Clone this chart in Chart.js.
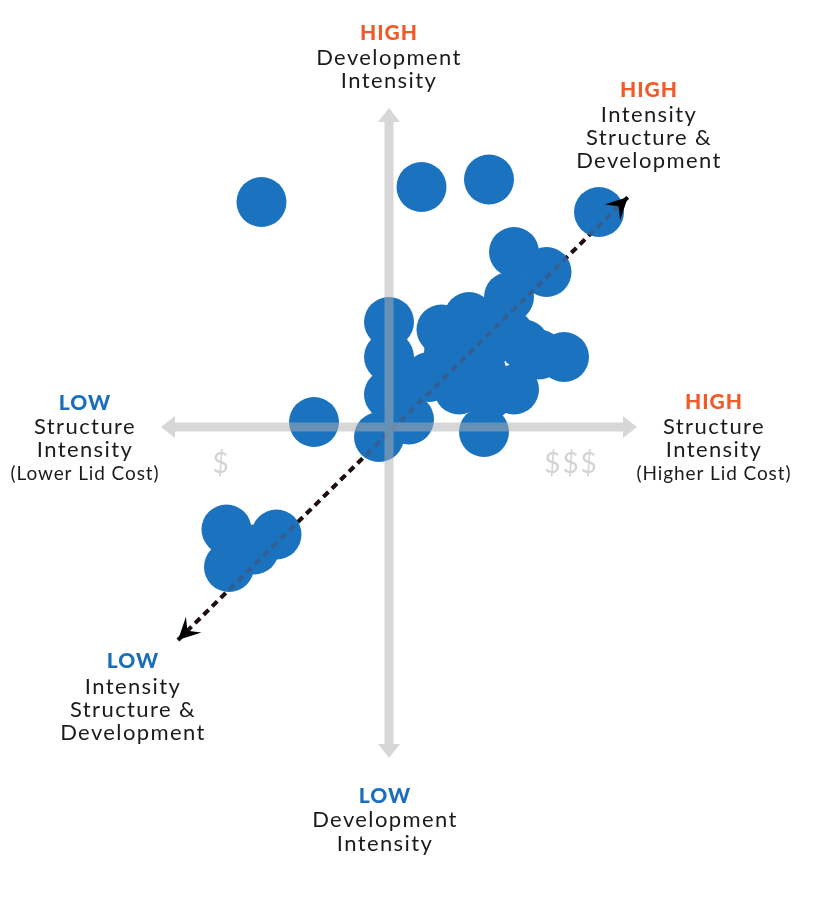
<!DOCTYPE html>
<html>
<head>
<meta charset="utf-8">
<script src="https://cdn.jsdelivr.net/npm/chart.js@4/dist/chart.umd.min.js"></script>
<style>
html,body{margin:0;padding:0;background:#ffffff;}
#wrap{width:824px;height:905px;position:relative;}
</style>
</head>
<body>
<div id="wrap"><canvas id="c"></canvas></div>
<script>
// ---- data (structure intensity = x, development intensity = y; origin = axis crossing) ----
const structureIntensity   = [-5.1, 1.3, 4.0, 8.4, 5.0, 6.3, 4.8, 3.2, 2.1, 0.0, 0.0, 0.0, -0.4, 0.8, 3.8, 7.0, 6.0, 2.8, 4.0, 5.0, 4.0, -3.0, -6.5, -4.5, -6.4, -5.4, 1.6, 3.7, 4.8, 2.4, 5.4];
const developmentIntensity = [ 9.0, 9.6, 9.9, 8.6, 7.0, 6.2, 5.2, 4.4, 3.9, 4.2, 2.8, 1.3, -0.4, 0.3, -0.2, 2.8, 2.9, 1.5, 1.3, 1.5, 3.4, 0.2, -4.1, -4.3, -5.6, -4.9, 2.0, 2.2, 3.7, 3.0, 3.3];
const trendX = [-8.44, 9.56];
const trendY = [-8.52, 9.2];
const axisXRange = [-9.12, 9.92];
const axisYRange = [-13.24, 12.76];
const costTickValues = [-6.7, 7.3];
const costTickLabels = ['$', '$$$'];
const topLabel = ['HIGH', 'Development', 'Intensity'];
const bottomLabel = ['LOW', 'Development', 'Intensity'];
const leftLabel = ['LOW', 'Structure', 'Intensity', '(Lower Lid Cost)'];
const rightLabel = ['HIGH', 'Structure', 'Intensity', '(Higher Lid Cost)'];
const diagHighLabel = ['HIGH', 'Intensity', 'Structure &', 'Development'];
const diagLowLabel = ['LOW', 'Intensity', 'Structure &', 'Development'];

const points = structureIntensity.map((v, i) => ({x: v, y: developmentIntensity[i]}));
const trend = trendX.map((v, i) => ({x: v, y: trendY[i]}));

const ORANGE = '#f15a29', BLUE = '#1a6fbd', INK = '#1d1a1b';
const FONT = 'Lato, "Open Sans", sans-serif';

function block(ctx, lines, cx, baselines, color) {
  lines.forEach((t, i) => {
    ctx.save();
    if (i === 0) {
      ctx.font = '900 21px ' + FONT;
      ctx.fillStyle = color;
      ctx.letterSpacing = '1px';
    } else if (t.startsWith('(')) {
      ctx.font = '19px ' + FONT;
      ctx.fillStyle = INK;
      ctx.letterSpacing = '0.9px';
    } else {
      ctx.font = '22px ' + FONT;
      ctx.fillStyle = INK;
      ctx.letterSpacing = '1.4px';
    }
    ctx.textAlign = 'center';
    ctx.textBaseline = 'alphabetic';
    ctx.fillText(t, cx, baselines[i]);
    ctx.restore();
  });
}

const decor = {
  id: 'decor',
  afterDatasetsDraw(chart) {
    const {ctx, scales: {x, y}} = chart;
    const x0 = x.getPixelForValue(0), y0 = y.getPixelForValue(0);
    const L = x.getPixelForValue(axisXRange[0]), R = x.getPixelForValue(axisXRange[1]);
    const T = y.getPixelForValue(axisYRange[1]), B = y.getPixelForValue(axisYRange[0]);
    const head = 14, hw = 11;
    ctx.save();
    ctx.strokeStyle = 'rgba(175,175,175,0.5)';
    ctx.fillStyle = 'rgba(175,175,175,0.5)';
    ctx.lineWidth = 9;
    ctx.beginPath();
    ctx.moveTo(L + head, y0); ctx.lineTo(R - head, y0);
    ctx.moveTo(x0, T + head); ctx.lineTo(x0, B - head);
    ctx.stroke();
    ctx.beginPath();
    ctx.moveTo(L, y0); ctx.lineTo(L + head, y0 - hw); ctx.lineTo(L + head, y0 + hw); ctx.closePath();
    ctx.moveTo(R, y0); ctx.lineTo(R - head, y0 - hw); ctx.lineTo(R - head, y0 + hw); ctx.closePath();
    ctx.moveTo(x0, T); ctx.lineTo(x0 - hw, T + head); ctx.lineTo(x0 + hw, T + head); ctx.closePath();
    ctx.moveTo(x0, B); ctx.lineTo(x0 - hw, B - head); ctx.lineTo(x0 + hw, B - head); ctx.closePath();
    ctx.fill();
    // diagonal arrowheads
    const sx = x.getPixelForValue(trendX[0]), sy = y.getPixelForValue(trendY[0]);
    const ex = x.getPixelForValue(trendX[1]), ey = y.getPixelForValue(trendY[1]);
    const len = Math.hypot(ex - sx, ey - sy);
    const ux = (ex - sx) / len, uy = (ey - sy) / len;
    const nx = -uy, ny = ux;
    const ah = 22, aw = 11;
    ctx.fillStyle = '#000';
    [[ex, ey, 1], [sx, sy, -1]].forEach(([px, py, d]) => {
      const bx = px - d * ux * ah, by = py - d * uy * ah;
      ctx.beginPath();
      ctx.moveTo(px, py);
      ctx.lineTo(bx + nx * aw, by + ny * aw);
      ctx.lineTo(px - d * ux * ah * 0.6, py - d * uy * ah * 0.6);
      ctx.lineTo(bx - nx * aw, by - ny * aw);
      ctx.closePath();
      ctx.fill();
    });
    ctx.restore();
  },
  afterDraw(chart) {
    const {ctx, scales: {x, y}} = chart;
    const x0 = x.getPixelForValue(0), y0 = y.getPixelForValue(0);
    // cost ticks
    ctx.save();
    ctx.font = '28px ' + FONT;
    ctx.fillStyle = '#d4d4d4';
    ctx.textAlign = 'center';
    ctx.textBaseline = 'middle';
    ctx.letterSpacing = '2px';
    costTickValues.forEach((v, i) => ctx.fillText(costTickLabels[i], x.getPixelForValue(v), y0 + 37));
    ctx.restore();
    block(ctx, topLabel, x0, [40, 65, 88], ORANGE);
    block(ctx, bottomLabel, x0 - 4, [803, 827, 851], BLUE);
    block(ctx, leftLabel, 85, [410, 434, 457, 480], BLUE);
    block(ctx, rightLabel, 714, [409, 434, 457, 480], ORANGE);
    block(ctx, diagHighLabel, 649, [97, 122, 145, 168], ORANGE);
    block(ctx, diagLowLabel, 133, [668, 694, 717, 740], BLUE);
  }
};

new Chart(document.getElementById('c'), {
  type: 'scatter',
  data: {
    datasets: [
      {
        label: 'trend', data: trend, showLine: true, borderColor: '#000', borderWidth: 4,
        borderDash: [7, 5], pointRadius: 0, order: 3
      },
      {
        label: 'projects', data: points, backgroundColor: '#1b72be', borderWidth: 0,
        pointRadius: 25, pointHoverRadius: 25, order: 2
      },
      {
        label: 'trend-through', data: trend, showLine: true, borderColor: 'rgba(110,50,50,0.3)', borderWidth: 4,
        borderDash: [7, 5], pointRadius: 0, order: 1
      }
    ]
  },
  options: {
    responsive: true,
    maintainAspectRatio: false,
    animation: false,
    layout: {padding: 0, autoPadding: false},
    plugins: {legend: {display: false}, tooltip: {enabled: false}},
    events: [],
    scales: {
      x: {type: 'linear', display: false, min: -15.56, max: 17.4},
      y: {type: 'linear', display: false, min: -19.12, max: 17.08}
    }
  },
  plugins: [decor]
});
</script>
</body>
</html>
